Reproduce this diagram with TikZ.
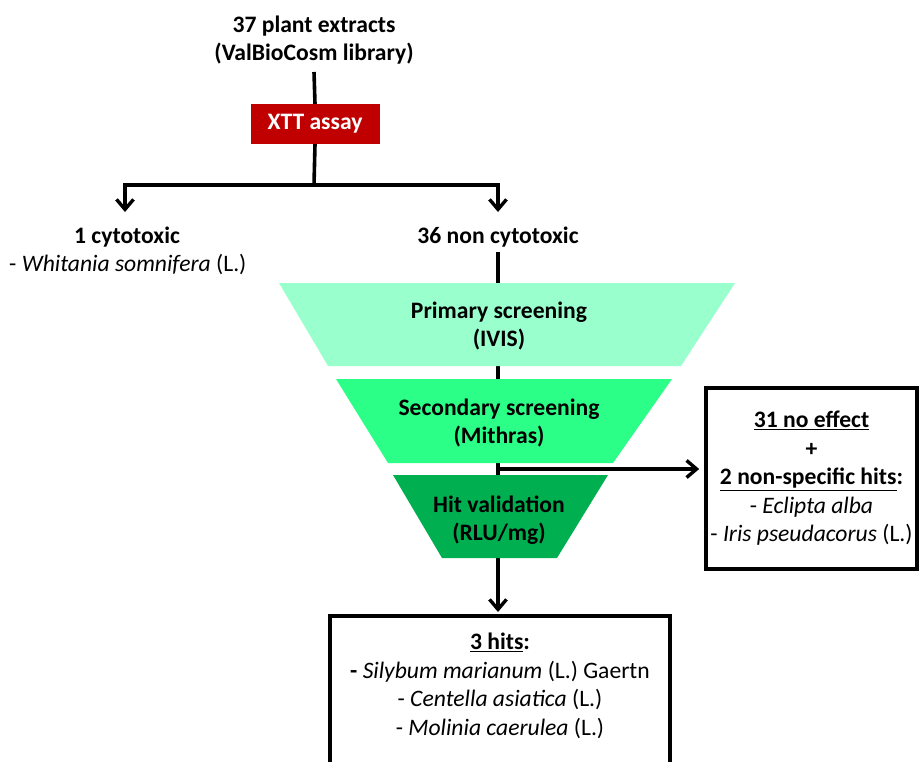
\documentclass[tikz,border=0pt]{standalone}
\usepackage{fontspec}
\setmainfont{Carlito}
\usetikzlibrary{arrows.meta}
\definecolor{xttred}{HTML}{C00000}
\definecolor{fone}{HTML}{99FFCC}
\definecolor{ftwo}{HTML}{2BFF88}
\definecolor{fthree}{HTML}{00B050}
\tikzset{
  txt/.style={inner sep=0pt, align=center, font=\fontsize{23.6}{28.5}\selectfont},
  btxt/.style={txt, font=\fontsize{23.6}{28.5}\selectfont\bfseries},
  conn/.style={line width=3.6pt, draw=black},
  arr/.style={conn, -{Straight Barb[length=10pt,width=17pt,line width=3.4pt]}},
  boxed/.style={draw=black, line width=3.6pt, fill=white},
}
\begin{document}
\begin{tikzpicture}[x=1pt,y=-1pt]
\useasboundingbox (0,0) rectangle (920,762);
% texts
\node[btxt] (src) at (314,40) {37 plant extracts\\(ValBioCosm library)};
\node[btxt, fill=xttred, text=white, minimum width=129pt, minimum height=40pt] (xtt) at (315,124) {XTT assay};
\node[btxt] (cyto) at (127,237) {1 cytotoxic};
\node[txt, anchor=west] (whit) at (9,265) {- \textit{Whitania somnifera} (L.)};
\node[btxt] (noncyto) at (498,237) {36 non cytotoxic};
% coordinates
\coordinate (br) at (314,185);
\coordinate (tipL) at (125,212);
\coordinate (tipR) at (498,212);
\coordinate (split) at (498,469);
\coordinate (tipB) at (498,612);
% connectors
\draw[conn] (314,72) -- (xtt.north);
\draw[conn] (xtt.south) -- (br);
\draw[arr] (br) -| (tipL);
\draw[arr] (br) -| (tipR);
\draw[arr] (498,252) -- (tipB);
% funnels
\fill[fone] (279,283) -- (735,283) -- (681,366) -- (328,366) -- cycle;
\fill[ftwo] (336,379) -- (672,379) -- (613,463) -- (388,463) -- cycle;
\fill[fthree] (393,475) -- (608,475) -- (557,558) -- (442,558) -- cycle;
\node[btxt] (f1) at (499,326) {Primary screening\\(IVIS)};
\node[btxt] (f2) at (499,423) {Secondary screening\\(Mithras)};
\node[btxt] (f3) at (499,520) {Hit validation\\(RLU/mg)};
% right box
\node[boxed, txt, minimum width=211pt, minimum height=181pt] (nohit) at (811.5,478.5) {\textbf{\underline{31 no effect}}\\\textbf{+}\\\textbf{\underline{2 non-specific hits}:}\\- \textit{Eclipta alba}\\- \textit{Iris pseudacorus} (L.)};
\draw[arr] (split) -- ([xshift=-5pt]split -| nohit.west);
% bottom box
\draw[boxed, fill=none] (330,766) -- (330,616) -- (670,616) -- (670,766);
\node[txt] (hits) at (500,686) {\textbf{\underline{3 hits}:}\\\textbf{-} \textit{Silybum marianum} (L.) Gaertn\\- \textit{Centella asiatica} (L.)\\- \textit{Molinia caerulea} (L.)};
\end{tikzpicture}
\end{document}
